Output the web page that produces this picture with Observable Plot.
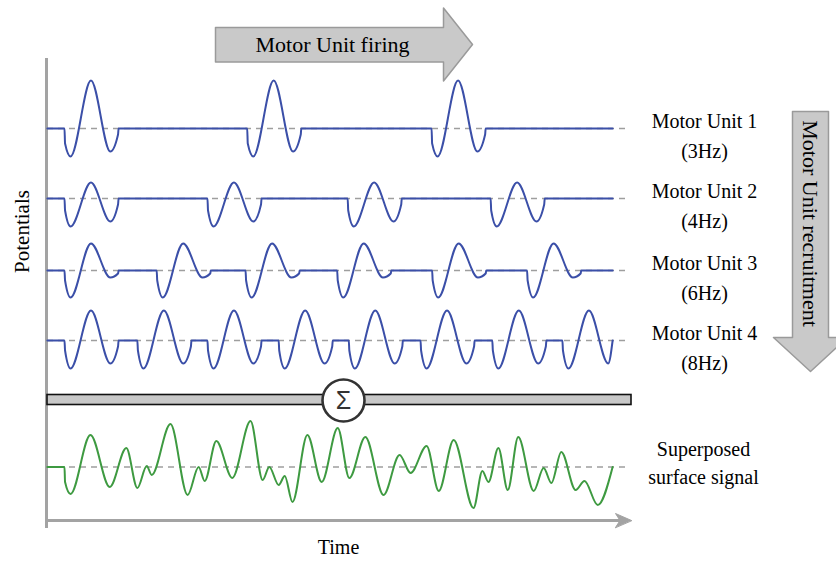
<!DOCTYPE html>
<html><head><meta charset="utf-8">
<script src="https://cdn.jsdelivr.net/npm/d3@7"></script>
<script src="https://cdn.jsdelivr.net/npm/@observablehq/plot@0.6"></script>
<style>html,body{margin:0;padding:0;background:#fff}</style>
</head><body><div id="chart"></div>
<script>
// ---------- data ----------
const unitNames = ["Motor Unit 1", "Motor Unit 2", "Motor Unit 3", "Motor Unit 4"];
const unitRates = ["(3Hz)", "(4Hz)", "(6Hz)", "(8Hz)"];
// firing (onset) times of each motor unit, seconds
const firingTimes = [
  [0, 0.331, 0.665],
  [0, 0.259, 0.513, 0.772],
  [0, 0.167, 0.328, 0.494, 0.666, 0.838],
  [0, 0.132, 0.259, 0.388, 0.515, 0.645, 0.775, 0.902]
];
// MUAP shape: time offsets after onset (s) and potential at each offset (a.u.)
const muapOffsets = [0, 0.001, 0.011, 0.048, 0.083, 0.097, 0.098];
const muapShapes = [
  [0, -15, -28, 48, -23, -6, 0],
  [0, -12, -28, 16, -23, -6, 0],
  [0, -10, -27, 27, -7, -3, 0],
  [0, -10, -28, 30, -23, -6, 0]
];
// superposed surface signal: extrema
const surfaceT = [-0.031, 0, 0.001, 0.011, 0.047, 0.082, 0.112, 0.132, 0.149, 0.158, 0.192, 0.223,
  0.243, 0.254, 0.275, 0.304, 0.337, 0.359, 0.371, 0.388, 0.399, 0.413, 0.440, 0.466, 0.495,
  0.516, 0.545, 0.578, 0.607, 0.627, 0.656, 0.678, 0.705, 0.741, 0.757, 0.768, 0.786, 0.803,
  0.822, 0.850, 0.868, 0.882, 0.900, 0.926, 0.942, 0.966, 0.993];
const surfaceAmp = [0, 0, -15, -27, 32, -20, 19, -21, 1, -8, 43, -28,
  0, -14, 26, -11, 46, -13, 0, -18, -9, -35, 32, -15, 39,
  -11, 30, -28, 12, -6, 21, -24, 27, -41, -4, -15, 19, -23,
  30, -24, -1, -16, 15, -23, -14, -38, 0];
const traceStart = -0.031, traceEnd = 0.993;

// ---------- layout ----------
const X = px => (px - 64) / 552;   // pixel -> seconds
const Y = py => py - 128;          // pixel -> vertical units
const rowOffset = [0, 70, 142, 212];
const surfaceOffset = 338.5;
const serif = "Liberation Serif, Times New Roman, serif";

// trace table
const traces = [];
firingTimes.forEach((times, i) => {
  const pts = [{t: traceStart, a: 0}];
  times.forEach(t0 => muapOffsets.forEach((o, j) => {
    if (t0 + o <= traceEnd) pts.push({t: t0 + o, a: muapShapes[i][j]});
  }));
  if (pts[pts.length - 1].t < traceEnd) pts.push({t: traceEnd, a: 0});
  pts.forEach(p => traces.push({unit: i, t: p.t, y: rowOffset[i] - p.a}));
});
const surface = surfaceT.map((t, i) => ({t, y: surfaceOffset - surfaceAmp[i]}));

const poly = pts => pts.map(([px, py]) => ({x: X(px), y: Y(py)}));
const firingArrow = poly([[215,27],[443,27],[443,7.5],[472,44],[443,80.5],[443,61.5],[215,61.5]]);
const recruitArrow = poly([[792,111],[828,111],[828,337],[847,337],[810,371],[773,337],[792,337]]);
const axisHead = poly([[631,520],[615,513],[619.5,520],[615,527]]);

const chart = Plot.plot({
  width: 836, height: 561, margin: 0,
  x: {domain: [X(0), X(836)], axis: null},
  y: {domain: [Y(0), Y(561)], reverse: true, axis: null},
  style: {background: "white"},
  marks: [
    // axes
    Plot.ruleX([X(46)], {y1: Y(58), y2: Y(528), stroke: "#a3a3a3", strokeWidth: 3}),
    Plot.ruleY([Y(520)], {x1: X(46), x2: X(621), stroke: "#a3a3a3", strokeWidth: 3}),
    Plot.line(axisHead, {x: "x", y: "y", curve: "linear-closed", fill: "#a3a3a3", stroke: "#a3a3a3", strokeWidth: 1}),
    // dashed baselines
    Plot.ruleY(rowOffset.concat([surfaceOffset]), {y: d => d, x1: X(47), x2: X(627), stroke: "#9e9e9e", strokeWidth: 1.6, strokeDasharray: "6,5"}),
    // motor unit trains
    Plot.line(traces, {x: "t", y: "y", z: "unit", stroke: "#3b4fa8", strokeWidth: 2, curve: "monotone-x"}),
    // summation bar
    Plot.rect([0], {x1: X(47), x2: X(631), y1: Y(394.5), y2: Y(404.5), fill: "#c8c8c8", stroke: "#111", strokeWidth: 1.6}),
    Plot.dot([0], {x: X(343), y: Y(400), r: 21, fill: "white", stroke: "#333", strokeWidth: 2.6}),
    Plot.text(["Σ"], {x: X(343), y: Y(400), text: d => d, fontSize: 25, fontFamily: "Liberation Sans, DejaVu Sans, sans-serif", fill: "#333", lineAnchor: "middle"}),
    // superposed signal
    Plot.line(surface, {x: "t", y: "y", stroke: "#3e9a41", strokeWidth: 2, curve: "monotone-x"}),
    // arrows
    Plot.line(firingArrow, {x: "x", y: "y", curve: "linear-closed", fill: "#c9c9c9", stroke: "#9a9a9a", strokeWidth: 1.5}),
    Plot.text(["Motor Unit firing"], {x: X(332), y: Y(44), text: d => d, fontSize: 22, fontFamily: serif, fill: "black", lineAnchor: "middle"}),
    Plot.line(recruitArrow, {x: "x", y: "y", curve: "linear-closed", fill: "#c9c9c9", stroke: "#9a9a9a", strokeWidth: 1.5}),
    Plot.text(["Motor Unit recruitment"], {x: X(810), y: Y(223), text: d => d, rotate: 90, fontSize: 22, fontFamily: serif, fill: "black", lineAnchor: "middle"}),
    // labels
    Plot.text(unitNames, {x: X(704), y: (d, i) => rowOffset[i] - 1, text: d => d, fontSize: 20, fontFamily: serif, fill: "black", lineAnchor: "bottom"}),
    Plot.text(unitRates, {x: X(704), y: (d, i) => rowOffset[i] + 29, text: d => d, fontSize: 20, fontFamily: serif, fill: "black", lineAnchor: "bottom"}),
    Plot.text(["Superposed", "surface signal"], {x: X(703), y: (d, i) => Y(455 + 28 * i), text: d => d, fontSize: 20, fontFamily: serif, fill: "black", lineAnchor: "bottom"}),
    Plot.text(["Potentials"], {x: X(22), y: Y(231), text: d => d, rotate: -90, fontSize: 21, fontFamily: serif, fill: "black", lineAnchor: "middle"}),
    Plot.text(["Time"], {x: X(338), y: Y(553), text: d => d, fontSize: 20, fontFamily: serif, fill: "black", lineAnchor: "bottom"})
  ]
});
document.getElementById("chart").appendChild(chart);
</script>
</body></html>
